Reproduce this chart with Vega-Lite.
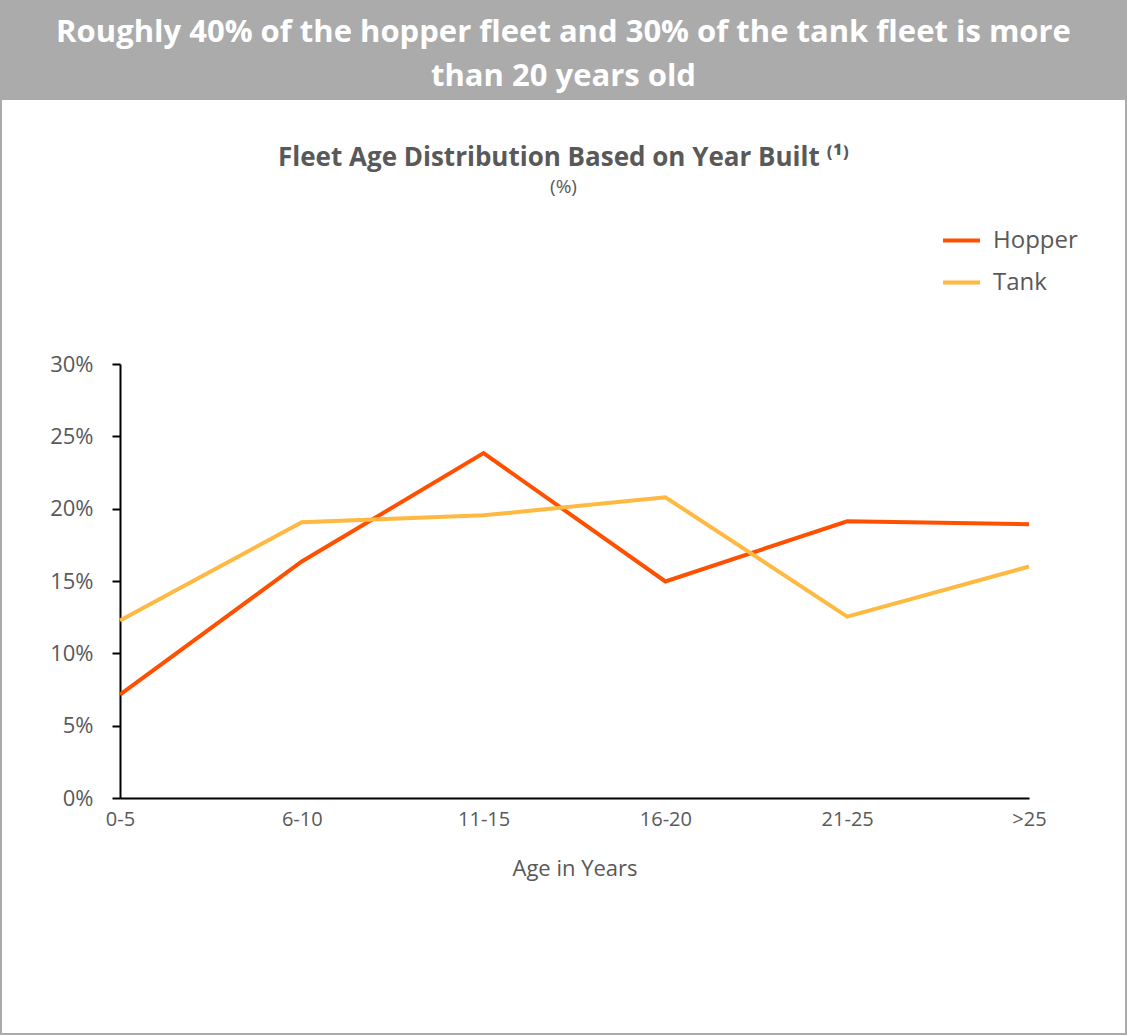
{
  "$schema": "https://vega.github.io/schema/vega-lite/v6.json",
  "background": "#ababab",
  "padding": {"left": 2, "right": 2, "top": 0, "bottom": 2},
  "spacing": 0,
  "config": {"view": {"stroke": null}, "font": "Open Sans"},
  "vconcat": [
    {
      "width": 1123,
      "height": 100,
      "data": {"values": [{"headline": "Roughly 40% of the hopper fleet and 30% of the tank fleet is more\nthan 20 years old"}]},
      "mark": {"type": "text", "font": "Open Sans", "fontWeight": "bold", "fontSize": 31, "color": "#ffffff", "lineBreak": "\n", "lineHeight": 44, "align": "center", "baseline": "middle", "dy": -17},
      "encoding": {"text": {"field": "headline", "type": "nominal"}}
    },
    {
      "width": 1123,
      "height": 933,
      "view": {"fill": "#ffffff", "stroke": null},
      "title": {
        "text": "Fleet Age Distribution Based on Year Built ⁽¹⁾",
        "subtitle": "(%)",
        "anchor": "middle",
        "frame": "group",
        "offset": -97,
        "font": "Open Sans",
        "fontSize": 26,
        "fontWeight": "bold",
        "color": "#595959",
        "subtitleFont": "Open Sans",
        "subtitleFontSize": 19,
        "subtitleColor": "#595959",
        "subtitlePadding": 7
      },
      "data": {"values": [
        {"age": "0-5", "fleet": "Hopper", "share": 0.0714},
        {"age": "6-10", "fleet": "Hopper", "share": 0.1635},
        {"age": "11-15", "fleet": "Hopper", "share": 0.2384},
        {"age": "16-20", "fleet": "Hopper", "share": 0.1497},
        {"age": "21-25", "fleet": "Hopper", "share": 0.1913},
        {"age": ">25", "fleet": "Hopper", "share": 0.1892},
        {"age": "0-5", "fleet": "Tank", "share": 0.1227},
        {"age": "6-10", "fleet": "Tank", "share": 0.1906},
        {"age": "11-15", "fleet": "Tank", "share": 0.1954},
        {"age": "16-20", "fleet": "Tank", "share": 0.2079},
        {"age": "21-25", "fleet": "Tank", "share": 0.1254},
        {"age": ">25", "fleet": "Tank", "share": 0.1600}
      ]},
      "mark": {"type": "line", "strokeWidth": 4},
      "encoding": {
        "x": {
          "field": "age",
          "type": "ordinal",
          "sort": ["0-5", "6-10", "11-15", "16-20", "21-25", ">25"],
          "scale": {"type": "point", "range": [118, 1027], "padding": 0},
          "axis": {
            "title": "Age in Years",
            "offset": -235,
            "labelAngle": 0,
            "ticks": false,
            "tickSize": 0,
            "labelPadding": 11,
            "labelFontSize": 20,
            "labelColor": "#595959",
            "domainColor": "#000000",
            "domainWidth": 2,
            "grid": false,
            "titleFontSize": 22,
            "titleFontWeight": "normal",
            "titleColor": "#595959",
            "titlePadding": 29
          }
        },
        "y": {
          "field": "share",
          "type": "quantitative",
          "scale": {"domain": [0, 0.3], "range": [698, 264], "nice": false},
          "axis": {
            "title": null,
            "offset": -118,
            "values": [0, 0.05, 0.1, 0.15, 0.2, 0.25, 0.3],
            "format": ".0%",
            "tickSize": 8,
            "tickColor": "#000000",
            "tickWidth": 2,
            "domainColor": "#000000",
            "domainWidth": 2,
            "labelFontSize": 22,
            "labelColor": "#595959",
            "labelPadding": 19,
            "grid": false
          }
        },
        "color": {
          "field": "fleet",
          "type": "nominal",
          "scale": {"domain": ["Hopper", "Tank"], "range": ["#ff5000", "#ffb840"]},
          "legend": {
            "title": null,
            "orient": "none",
            "legendX": 939,
            "legendY": 220,
            "padding": 0,
            "symbolType": "stroke",
            "symbolSize": 1369,
            "symbolStrokeWidth": 4,
            "labelFontSize": 24,
            "labelColor": "#595959",
            "labelOffset": 11,
            "rowPadding": 9
          }
        }
      }
    }
  ]
}
